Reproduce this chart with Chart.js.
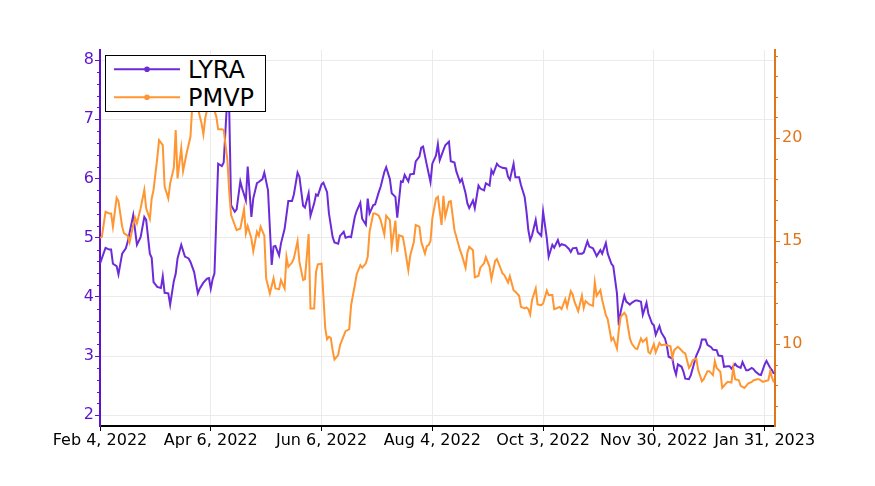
<!DOCTYPE html>
<html>
<head>
<meta charset="utf-8">
<script src="https://cdn.jsdelivr.net/npm/chart.js@4.4.1/dist/chart.umd.min.js"></script>
<style>
  body { margin: 0; background: #fff; }
  #wrap { position: relative; width: 875px; height: 486px; }
  #legend {
    position: absolute; left: 105px; top: 55px; width: 161px; height: 57px;
    box-sizing: border-box; border: 1px solid #000; background: #fff;
    font-family: "DejaVu Sans", sans-serif; font-size: 24px; color: #000;
  }
  #legend svg { position: absolute; left: 0; top: 0; }
  #legend .lab { position: absolute; left: 82px; line-height: 24px; white-space: nowrap; }
</style>
</head>
<body>
<div id="wrap">
  <canvas id="chart" width="875" height="486"></canvas>
  <div id="legend">
    <svg width="159" height="55">
      <line x1="8" y1="13.3" x2="74" y2="13.3" stroke="#6c2bd9" stroke-width="2"/>
      <circle cx="41" cy="13.3" r="2.8" fill="#6c2bd9"/>
      <line x1="8" y1="41.3" x2="74" y2="41.3" stroke="#ff9632" stroke-width="2"/>
      <circle cx="41" cy="41.3" r="2.8" fill="#ff9632"/>
    </svg>
    <span class="lab" style="top:2px">LYRA</span>
    <span class="lab" style="top:29.7px">PMVP</span>
  </div>
</div>
<script>
// x = days since Feb 4, 2022 (tick every 60 points)
const tickDays = [0, 60, 120, 180, 240, 300, 360];
const tickLabels = ["Feb 4, 2022", "Apr 6, 2022", "Jun 6, 2022", "Aug 4, 2022", "Oct 3, 2022", "Nov 30, 2022", "Jan 31, 2023"];
const leftTicks = [2, 3, 4, 5, 6, 7, 8];
const rightTicks = [10, 15, 20];

const lyraDays = [0,1,3,5,6,7,9,10,12,14,15,18,19,20,22,24,25,27,28,29,31,33,34,35,37,38,40,41,42,44,46,48,49,51,53,54,56,58,59,60,61,62,63,64,66,67,69,70,71,73,74,76,77,79,80,82,83,85,86,88,89,91,93,94,95,97,98,100,102,104,105,107,108,110,111,113,114,116,117,118,120,121,123,124,126,127,129,130,132,133,135,136,138,139,141,142,144,145,146,148,149,151,152,154,155,157,158,160,161,163,164,165,167,168,170,171,173,174,175,177,179,180,182,183,184,186,187,189,190,192,193,195,196,198,199,200,202,203,205,206,208,209,211,212,213,215,216,218,220,221,222,224,225,227,228,230,231,232,233,234,236,237,239,240,242,243,245,246,248,249,250,252,254,255,256,258,259,261,262,264,265,267,268,269,271,272,274,275,277,278,280,281,282,284,285,287,288,290,291,293,294,296,297,299,300,301,303,304,306,307,308,310,311,312,313,315,316,317,319,320,322,323,325,326,328,329,331,332,334,335,337,338,340,341,342,344,345,347,348,350,351,353,354,355,357,358,360,361,363,364,365];
const lyraValues = [4.56,4.65,4.83,4.80,4.80,4.56,4.52,4.38,4.73,4.82,4.93,5.38,5.13,4.88,5.01,5.35,5.30,4.73,4.66,4.25,4.17,4.15,4.35,4.07,4.06,3.87,4.27,4.39,4.65,4.88,4.68,4.65,4.59,4.42,4.06,4.14,4.24,4.31,4.32,4.14,4.30,4.40,5.32,6.25,6.21,6.27,7.40,7.15,5.55,5.44,5.48,5.95,5.83,5.63,6.20,5.35,5.66,5.92,5.94,5.99,6.10,5.80,4.54,4.85,4.86,4.70,4.90,5.15,5.62,5.62,5.73,6.10,6.03,5.54,5.51,5.75,5.37,5.58,5.73,5.71,5.90,5.93,5.77,5.41,5.01,4.92,4.90,5.03,5.10,5.00,5.02,5.01,5.35,5.45,5.59,5.32,5.22,5.66,5.41,5.55,5.56,5.77,5.86,6.11,6.19,5.99,5.75,5.69,5.34,5.95,5.94,6.06,5.95,6.07,6.08,6.29,6.37,6.52,6.54,6.23,5.94,6.25,6.39,6.58,6.31,6.48,6.56,6.62,6.29,6.27,6.12,5.94,5.99,5.75,5.58,5.50,5.63,5.50,5.88,5.83,5.80,5.92,5.88,6.14,6.08,6.25,6.21,6.18,6.17,6.03,5.98,6.25,6.02,6.02,5.89,5.69,5.44,5.13,4.96,5.04,5.30,5.10,5.03,5.44,4.99,4.68,4.88,4.83,4.96,4.86,4.89,4.87,4.81,4.76,4.82,4.83,4.73,4.73,4.75,4.94,4.85,4.82,4.76,4.69,4.79,4.73,4.91,4.73,4.56,4.52,4.06,3.52,3.75,4.02,3.92,3.87,3.90,3.94,3.94,3.92,3.70,3.90,3.72,3.55,3.52,3.36,3.51,3.40,3.30,3.18,2.99,2.96,2.79,2.69,2.86,2.82,2.74,2.62,2.61,2.68,2.90,3.01,3.15,3.28,3.28,3.19,3.15,3.11,3.10,3.01,3.00,2.82,2.83,2.83,2.79,2.87,2.83,2.80,2.90,2.76,2.76,2.80,2.78,2.74,2.69,2.68,2.86,2.92,2.80,2.76,2.70];

const pmvpDays = [0,1,3,5,6,7,9,10,12,13,15,16,18,19,20,22,24,25,27,28,29,31,32,34,35,37,38,40,41,42,44,45,47,49,50,51,53,55,56,57,59,61,63,64,66,67,69,70,71,73,74,76,77,78,79,80,82,83,85,86,87,89,90,92,94,95,97,98,100,101,102,104,105,107,108,110,111,113,114,116,117,118,120,122,123,124,125,126,127,129,130,132,133,135,136,138,139,141,142,144,145,146,148,149,151,152,154,155,157,158,160,161,162,164,165,167,168,170,171,173,174,176,177,178,179,180,182,183,185,186,187,189,190,192,193,195,196,198,199,200,202,203,205,206,208,209,211,212,214,215,217,218,219,221,222,224,225,227,228,230,231,232,233,234,236,237,239,240,242,243,245,246,247,249,250,252,253,255,256,257,259,261,262,263,265,267,268,269,271,272,274,275,277,278,280,281,282,284,285,287,288,290,291,293,294,296,297,298,300,301,303,304,306,307,309,310,311,313,314,316,317,319,320,321,323,324,326,327,329,330,332,333,334,336,337,339,340,342,343,344,346,347,349,350,351,353,354,356,357,359,360,362,363,364,365];
const pmvpValues = [15.16,15.21,16.42,16.34,16.34,15.70,17.10,16.94,15.70,15.37,15.26,14.94,15.78,16.13,15.86,16.59,17.48,16.59,16.07,17.07,17.48,19.01,19.90,19.66,17.64,17.07,17.80,18.56,20.39,18.04,19.50,18.40,19.30,20.06,21.60,22.30,21.44,20.71,20.18,20.96,21.80,21.60,21.04,20.42,20.42,20.39,18.93,17.39,16.26,15.78,15.53,15.61,16.07,16.55,15.37,15.73,15.13,14.51,15.45,15.26,15.70,15.26,13.19,12.46,13.19,12.70,12.67,13.11,12.70,14.24,13.75,13.96,14.16,15.00,14.00,13.11,13.16,15.34,11.73,11.73,13.51,13.87,13.90,10.76,10.24,10.36,10.31,9.71,9.26,9.47,9.95,10.40,10.63,10.73,11.89,12.86,13.38,13.83,13.71,13.92,14.24,15.45,16.34,16.34,16.23,16.02,15.32,16.23,16.02,14.72,15.99,14.48,15.29,15.21,14.72,13.59,14.29,14.97,15.78,15.70,14.97,14.40,14.76,14.81,15.00,16.10,17.07,17.15,15.78,17.20,16.18,16.91,16.94,15.53,15.21,14.56,14.32,13.71,14.45,14.72,14.56,13.24,13.32,13.71,13.92,14.22,13.75,13.16,14.03,14.13,13.67,13.43,13.35,12.99,13.30,12.62,12.54,12.35,11.81,11.73,11.78,11.70,11.44,12.14,12.70,11.93,11.89,11.97,12.60,12.38,12.38,11.70,11.73,11.81,11.70,12.18,11.81,12.57,12.41,12.06,11.60,12.35,11.76,12.09,11.93,11.86,12.99,12.35,12.62,12.14,11.41,11.21,10.19,10.31,9.79,10.68,11.33,11.52,11.38,10.28,10.03,9.79,9.76,10.28,10.11,10.28,9.62,9.55,10.00,9.60,10.06,9.95,9.98,9.95,9.90,9.34,9.71,9.87,9.79,9.60,9.55,8.85,8.98,9.22,9.30,8.74,8.20,8.30,8.69,8.69,8.50,9.17,8.85,8.66,7.88,8.09,8.17,8.14,8.85,8.30,8.25,7.98,7.88,7.98,8.09,8.17,8.25,8.30,8.30,8.17,8.20,8.25,8.69,8.37,8.14];

const lyraColor = "#6c2bd9";
const pmvpColor = "#ff9632";
const leftAxisColor = "#5e12cc";
const rightAxisColor = "#e0761a";
const gridColor = "#ebebeb";
const tickFont = { family: "DejaVu Sans", size: 16 };

// short minor ticks, plotly style
const minorTicks = {
  id: "minorTicks",
  afterDraw(chart) {
    const ctx = chart.ctx;
    const draw = (scale, step, majors, color, side) => {
      ctx.save();
      ctx.strokeStyle = color;
      ctx.lineWidth = 1;
      const start = Math.ceil(scale.min / step - 1e-6);
      const end = Math.floor(scale.max / step + 1e-6);
      for (let k = start; k <= end; k++) {
        const v = +(k * step).toFixed(4);
        if (majors.some(m => Math.abs(m - v) < 1e-6)) continue;
        const py = Math.round(scale.getPixelForValue(v)) + 0.5;
        const x0 = side === "left" ? scale.right - 3 : scale.left;
        ctx.beginPath();
        ctx.moveTo(x0, py);
        ctx.lineTo(x0 + 3, py);
        ctx.stroke();
      }
      ctx.restore();
    };
    draw(chart.scales.y, 0.2, leftTicks, leftAxisColor, "left");
    draw(chart.scales.y1, 1, rightTicks, rightAxisColor, "right");
  }
};

new Chart(document.getElementById("chart"), {
  type: "line",
  data: {
    datasets: [
      {
        label: "LYRA",
        data: lyraDays.map((d, i) => ({ x: d, y: lyraValues[i] })),
        yAxisID: "y",
        borderColor: lyraColor,
        borderWidth: 2,
        pointRadius: 0,
        tension: 0,
        order: 1
      },
      {
        label: "PMVP",
        data: pmvpDays.map((d, i) => ({ x: d, y: pmvpValues[i] })),
        yAxisID: "y1",
        borderColor: pmvpColor,
        borderWidth: 2,
        pointRadius: 0,
        tension: 0,
        order: 0
      }
    ]
  },
  options: {
    responsive: false,
    animation: false,
    layout: { padding: { top: 50, left: 0, right: 0, bottom: 0 } },
    plugins: { legend: { display: false }, tooltip: { enabled: false } },
    scales: {
      x: {
        type: "linear",
        min: 0,
        max: 365.6,
        afterBuildTicks: s => { s.ticks = tickDays.map(v => ({ value: v })); },
        afterFit: s => { s.height = 60; },
        ticks: {
          autoSkip: false, maxRotation: 0, color: "#000", font: tickFont, padding: 0,
          callback: (v, i) => tickLabels[i]
        },
        grid: { color: gridColor, tickColor: "#000", tickLength: 5 },
        border: { color: "#000", width: 2 }
      },
      y: {
        position: "left",
        min: 1.82,
        max: 8.17,
        afterBuildTicks: s => { s.ticks = leftTicks.map(v => ({ value: v })); },
        afterFit: s => { s.width = 100; },
        ticks: { color: leftAxisColor, font: tickFont, padding: 1 },
        grid: { color: gridColor, tickColor: leftAxisColor, tickLength: 5 },
        border: { color: leftAxisColor, width: 2 }
      },
      y1: {
        position: "right",
        min: 6.03,
        max: 24.27,
        afterBuildTicks: s => { s.ticks = rightTicks.map(v => ({ value: v })); },
        afterFit: s => { s.width = 100; },
        ticks: { color: rightAxisColor, font: tickFont, padding: 2 },
        grid: { drawOnChartArea: false, tickColor: rightAxisColor, tickLength: 5 },
        border: { color: rightAxisColor, width: 2 }
      }
    }
  },
  plugins: [minorTicks]
});
</script>
</body>
</html>
